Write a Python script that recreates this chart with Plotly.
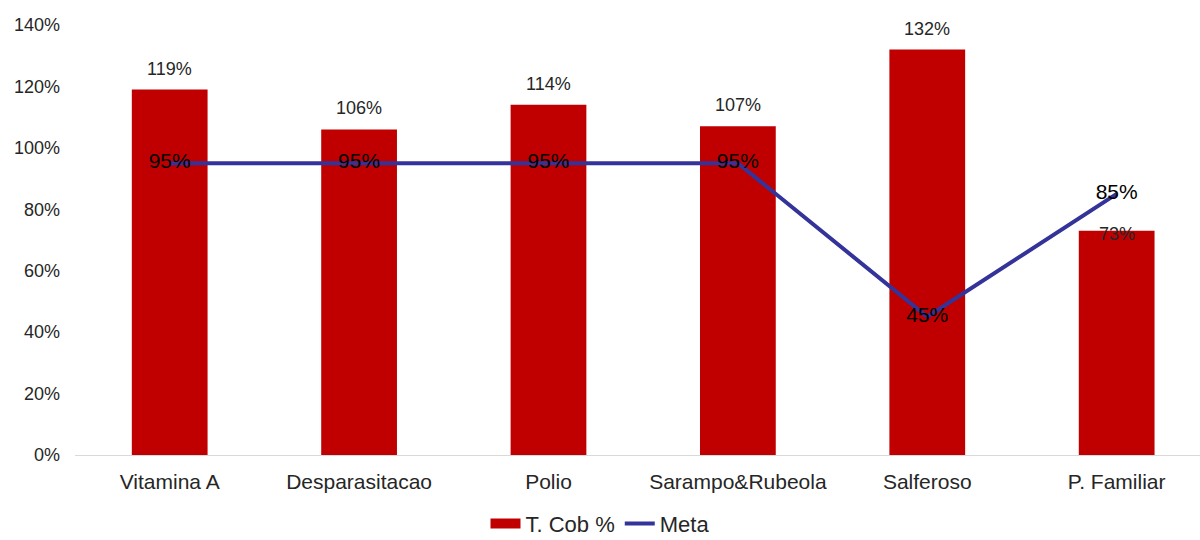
import plotly.graph_objects as go

categories = ["Vitamina A", "Desparasitacao", "Polio", "Sarampo&Rubeola", "Salferoso", "P. Familiar"]
cobertura = [1.19, 1.06, 1.14, 1.07, 1.32, 0.73]
meta = [0.95, 0.95, 0.95, 0.95, 0.45, 0.85]

FONT = "Liberation Sans, Arial, sans-serif"
TEXT = "#262626"
RED = "#C00000"
BLUE = "#333399"

xs = list(range(len(categories)))

fig = go.Figure()
fig.add_trace(go.Bar(
    x=xs, y=cobertura, name="T. Cob %", showlegend=False,
    marker=dict(color=RED, line=dict(width=0)),
))
fig.add_trace(go.Scatter(
    x=xs, y=meta, name="Meta", mode="lines+text", showlegend=False,
    line=dict(color=BLUE, width=4),
    text=[f"{round(v * 100)}%" for v in meta],
    textposition="middle center",
    textfont=dict(family=FONT, size=21, color="#000000"),
    cliponaxis=False,
))

# legend entries: a thick line stands in for the bar swatch
fig.add_trace(go.Scatter(x=[None], y=[None], mode="lines", name="T. Cob %",
                         line=dict(color=RED, width=13)))
fig.add_trace(go.Scatter(x=[None], y=[None], mode="lines", name="Meta",
                         line=dict(color=BLUE, width=4)))

# value labels for the bars; the last one sits just inside the bar top
for i, v in enumerate(cobertura):
    last = i == len(cobertura) - 1
    fig.add_annotation(
        x=xs[i], y=v, text=f"{round(v * 100)}%", showarrow=False,
        yanchor="middle" if last else "bottom",
        yshift=-3 if last else 9,
        font=dict(family=FONT, size=18, color=TEXT),
    )

fig.update_layout(
    width=1200, height=540,
    margin=dict(l=75, r=0, t=25, b=85),
    paper_bgcolor="white", plot_bgcolor="white",
    bargap=0.6,
    font=dict(family=FONT, size=18, color=TEXT),
    showlegend=True,
    legend=dict(orientation="h", x=0.5, xanchor="center", xref="container",
                y=0.03, yanchor="middle", yref="container",
                font=dict(family=FONT, size=22, color=TEXT), traceorder="normal"),
    xaxis=dict(range=[-0.5, 5.44], tickmode="array",
               tickvals=xs, ticktext=categories,
               showgrid=False, showline=True, linecolor="#D9D9D9", linewidth=1,
               zeroline=False, ticks="", ticklabelstandoff=8,
               tickfont=dict(family=FONT, size=21, color=TEXT)),
    yaxis=dict(range=[0, 1.4], dtick=0.2, tickformat=".0%", showgrid=False,
               zeroline=False, showline=False, ticks="", ticklabelstandoff=14,
               tickfont=dict(family=FONT, size=18, color=TEXT)),
)

fig.write_html("out.html")
